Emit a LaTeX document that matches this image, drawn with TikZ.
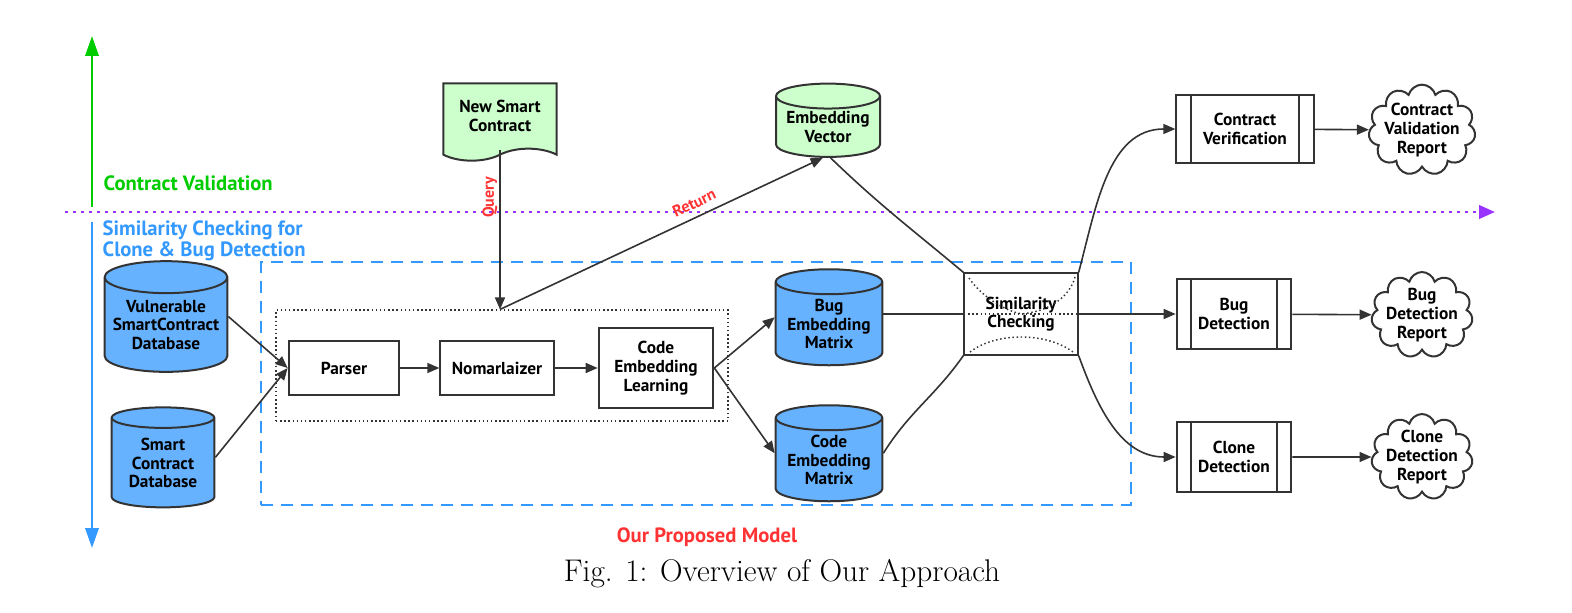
\documentclass[tikz,border=0pt]{standalone}
\usepackage{fontspec}
\newfontfamily\diagfont{PT Sans}
\usetikzlibrary{arrows.meta,shapes.geometric,shapes.symbols}

\definecolor{edgecol}{HTML}{333333}
\definecolor{dbblue}{HTML}{66B2FF}
\definecolor{lgreen}{HTML}{CCFFCC}
\definecolor{gaxis}{HTML}{00CC00}
\definecolor{baxis}{HTML}{3399FF}
\definecolor{purp}{HTML}{9933FF}
\definecolor{redt}{HTML}{FF3333}

\begin{document}
\begin{tikzpicture}[x=0.75pt, y=0.75pt,
    font=\fontsize{13}{14}\selectfont\diagfont\bfseries,
    box/.style={draw=edgecol, line width=1.5pt, rectangle, align=center, inner sep=1pt},
    db/.style={cylinder, shape border rotate=90, aspect=0.3, draw=edgecol, line width=1.5pt, fill=dbblue, align=center, inner sep=0pt},
    proc/.style={box, path picture={
        \draw[edgecol, line width=1.5pt]
          ([xshift=11pt]path picture bounding box.north west) -- ([xshift=11pt]path picture bounding box.south west)
          ([xshift=-11pt]path picture bounding box.north east) -- ([xshift=-11pt]path picture bounding box.south east);}},
    report/.style={cloud, cloud puffs=11, aspect=1.3, draw=edgecol, line width=1.5pt, align=center, inner xsep=-3pt, inner ysep=-3.5pt},
    line/.style={draw=edgecol, line width=1.2pt},
    arr/.style={line, -{Triangle[length=9pt,width=7.5pt]}},
    tag/.style={font=\fontsize{15.5}{15.5}\selectfont\diagfont\bfseries},
    redtag/.style={text=redt, font=\fontsize{12}{12}\selectfont\diagfont\bfseries, inner sep=1.5pt}]
    \useasboundingbox (0,0) rectangle (1572,612);

    % side axes and the split line
    \coordinate (gbot) at (92,405);
    \coordinate (gtop) at (92,576);
    \coordinate (bbot) at (92,64);
    \coordinate (btop) at (92,390);
    \coordinate (sl) at (65,400);
    \coordinate (sr) at (1495,400);
    \draw[gaxis, line width=2pt, -{Triangle[length=15pt,width=10pt]}] (gbot) -- (gtop);
    \draw[baxis, line width=2pt, -{Triangle[length=15pt,width=10pt]}] (btop) -- (bbot);
    \draw[purp, line width=2.2pt, dash pattern=on 2.2pt off 3.8pt, -{Triangle[length=12pt,width=10pt]}] (sl) -- (sr);
    \node[tag, text=gaxis, anchor=west] (cvtag) at (99,429) {Contract Validation};
    \node[tag, text=baxis, anchor=west, align=left] (sctag) at (98,371) {Similarity Checking for\\Clone \& Bug Detection};

    % model frames
    \node[draw=baxis, line width=1.5pt, dash pattern=on 9pt off 6pt, minimum width=652pt, minimum height=182pt] (model) at (696,228.5) {};
    \node[draw=edgecol, line width=1.1pt, dotted, minimum width=339pt, minimum height=83pt] (pipe) at (502,246.5) {};
    \node[tag, text=redt] (mtag) at (707,75) {Our Proposed Model};

    % inputs
    \node[db, minimum width=92pt, minimum height=83pt] (vdb) at (166,287) {Vulnerable\\SmartContract\\Database};
    \node[db, minimum width=77pt, minimum height=75pt] (sdb) at (163,149) {Smart\\Contract\\Database};
    \node[box, tape, tape bend top=none, tape bend height=9pt, fill=lgreen, minimum width=85pt, minimum height=58pt] (nsc) at (500,496) {New Smart\\Contract};

    % pipeline
    \node[box, minimum width=83pt, minimum height=40pt] (parser) at (344,244) {Parser};
    \node[box, minimum width=85pt, minimum height=40pt] (norm) at (497,244) {Nomarlaizer};
    \node[box, minimum width=86pt, minimum height=60pt] (cel) at (656,244) {Code\\Embedding\\Learning};

    % embeddings
    \node[db, fill=lgreen, minimum width=78pt, minimum height=55pt] (ev) at (828,485) {Embedding\\Vector};
    \node[db, minimum width=80pt, minimum height=72pt] (bem) at (829,288) {Bug\\Embedding\\Matrix};
    \node[db, minimum width=80pt, minimum height=72pt] (cem) at (829,152) {Code\\Embedding\\Matrix};

    % similarity check
    \node[box, minimum width=85pt, minimum height=61pt] (sim) at (1021,298) {Similarity\\Checking};
    \begin{scope}[shift={(sim.center)}, edgecol, line width=1.1pt, dotted]
        \draw (-57,0) -- (57,0);
        \draw (-52,36) .. controls (-40,18) and (-15,2) .. (2,0);
        \draw (54,37) .. controls (48,15) and (25,2) .. (0,0);
        \draw (-51,-38) .. controls (-25,-18) and (25,-18) .. (52,-38);
    \end{scope}

    % outputs
    \node[proc, minimum width=103pt, minimum height=51pt] (cv) at (1245,483) {Contract\\Verification};
    \node[proc, minimum width=86pt, minimum height=53pt] (bd) at (1234,298) {Bug\\Detection};
    \node[proc, minimum width=86pt, minimum height=53pt] (cd) at (1234,155) {Clone\\Detection};
    \node[report] (cvr) at (1422,482) {Contract\\Validation\\Report};
    \node[report] (bdr) at (1422,297) {Bug\\Detection\\Report};
    \node[report] (cdr) at (1422,155) {Clone\\Detection\\Report};

    \coordinate (qpt) at (pipe.north -| nsc.south);

    \draw[arr] (vdb.shape center -| vdb.east) -- (parser.west);
    \draw[arr] (sdb.shape center -| sdb.east) -- (parser.west);
    \draw[arr] (parser) -- (norm);
    \draw[arr] (norm) -- (cel);
    \draw[arr] (cel.east) -- (bem.shape center -| bem.west);
    \draw[arr] (cel.east) -- (cem.shape center -| cem.west);
    \draw[arr] (nsc.south) -- node[redtag, pos=0.3, rotate=90, anchor=south] {Query} (qpt);
    \draw[arr] (qpt) -- node[redtag, pos=0.62, sloped, above=4pt] {Return} ([xshift=-4pt]ev.south);
    \draw[line] ([xshift=2pt]ev.south) to[out=-44, in=140] (sim.north west);
    \draw[line] (sim.west -| bem.east) -- (sim.west);
    \draw[line] (cem.shape center -| cem.east) to[out=58, in=235] (sim.south west);
    \draw[arr] (sim.east) -- (bd.west);
    \draw[arr] (sim.north east) to[out=75, in=180] (cv.west);
    \draw[arr] (sim.south east) to[out=-70, in=180] (cd.west);
    \draw[arr] (cv) -- (cvr);
    \draw[arr] (bd) -- (bdr);
    \draw[arr] (cd) -- (cdr);

    \node[font=\fontsize{23.5}{27}\selectfont] (cap) at (782,38) {Fig. 1: Overview of Our Approach};
\end{tikzpicture}
\end{document}
